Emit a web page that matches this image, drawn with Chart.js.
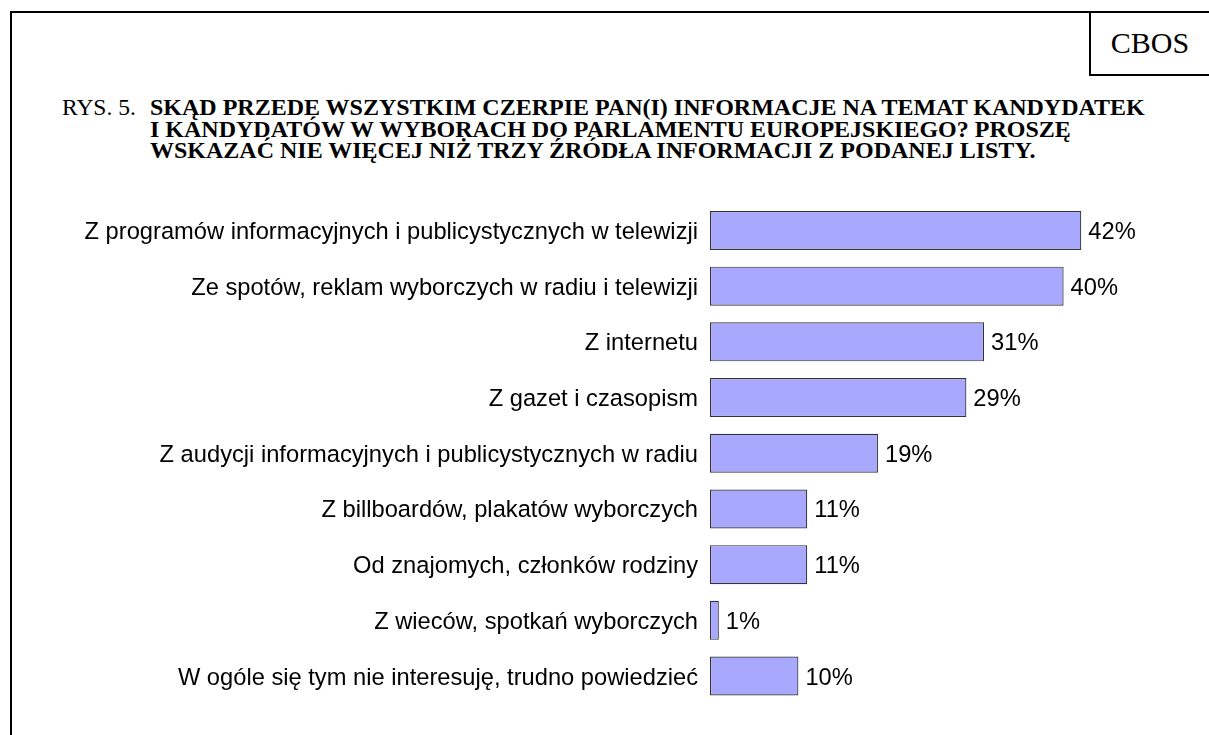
<!DOCTYPE html>
<html>
<head>
<meta charset="utf-8">
<script src="https://cdn.jsdelivr.net/npm/chart.js@4"></script>
<style>
  html, body { margin: 0; padding: 0; background: #fff; }
  body { width: 1209px; height: 735px; position: relative; overflow: hidden; }
  .ln { position: absolute; background: #000; }
  .serif { position: absolute; font-family: "Liberation Serif", "Times New Roman", serif; color: #000; white-space: nowrap; }
  #chartWrap { position: absolute; left: 0; top: 0; width: 1209px; height: 735px; }
</style>
</head>
<body>
<div class="ln" style="left:10px; top:11px; width:1199px; height:2px;"></div>
<div class="ln" style="left:10px; top:11px; width:2px; height:724px;"></div>
<div class="ln" style="left:1089px; top:11px; width:2px; height:65px;"></div>
<div class="ln" style="left:1089px; top:74px; width:120px; height:2px;"></div>
<div class="serif" style="left:1091px; width:118px; text-align:center; top:26px; font-size:30px; line-height:34px;">CBOS</div>
<div class="serif" style="left:62px; top:97px; font-size:23.5px; line-height:21.7px;">RYS. 5.</div>
<div class="serif" style="left:150px; top:97px; font-size:24px; line-height:21.7px; font-weight:bold;">SKĄD PRZEDE WSZYSTKIM CZERPIE PAN(I) INFORMACJE NA TEMAT KANDYDATEK<br>I KANDYDATÓW W WYBORACH DO PARLAMENTU EUROPEJSKIEGO? PROSZĘ<br>WSKAZAĆ NIE WIĘCEJ NIŻ TRZY ŹRÓDŁA INFORMACJI Z PODANEJ LISTY.</div>
<div id="chartWrap"><canvas id="c" width="1209" height="735"></canvas></div>
<script>
const categories = [
  "Z programów informacyjnych i publicystycznych w telewizji",
  "Ze spotów, reklam wyborczych w radiu i telewizji",
  "Z internetu",
  "Z gazet i czasopism",
  "Z audycji informacyjnych i publicystycznych w radiu",
  "Z billboardów, plakatów wyborczych",
  "Od znajomych, członków rodziny",
  "Z wieców, spotkań wyborczych",
  "W ogóle się tym nie interesuję, trudno powiedzieć"
];
const values = [42, 40, 31, 29, 19, 11, 11, 1, 10];
const valueSuffix = "%";

const valueLabels = {
  id: 'valueLabels',
  afterDatasetsDraw(chart) {
    const ctx = chart.ctx;
    const meta = chart.getDatasetMeta(0);
    ctx.save();
    ctx.font = '23.7px "Liberation Sans", Arial, sans-serif';
    ctx.fillStyle = '#000';
    ctx.textAlign = 'left';
    ctx.textBaseline = 'middle';
    meta.data.forEach((bar, i) => {
      ctx.fillText(values[i] + valueSuffix, bar.x + 7, bar.y + 2);
    });
    ctx.restore();
  }
};

new Chart(document.getElementById('c'), {
  type: 'bar',
  data: {
    labels: categories,
    datasets: [{
      data: values,
      backgroundColor: '#a8a8ff',
      borderColor: '#333333',
      borderWidth: 1.2,
      borderSkipped: false,
      categoryPercentage: 1.0,
      barPercentage: 0.7
    }]
  },
  options: {
    indexAxis: 'y',
    responsive: false,
    animation: false,
    devicePixelRatio: 1,
    layout: { padding: { top: 202.6, bottom: 31.1, left: 0, right: 57 } },
    plugins: { legend: { display: false }, tooltip: { enabled: false } },
    scales: {
      x: { min: 0, max: 50, display: false },
      y: {
        grid: { display: false, drawTicks: false },
        border: { display: false },
        ticks: {
          color: '#000',
          padding: 12,
          labelOffset: 2,
          font: { family: '"Liberation Sans", Arial, sans-serif', size: 23.7 }
        },
        afterFit(scale) { scale.width = 710; }
      }
    }
  },
  plugins: [valueLabels]
});
</script>
</body>
</html>
